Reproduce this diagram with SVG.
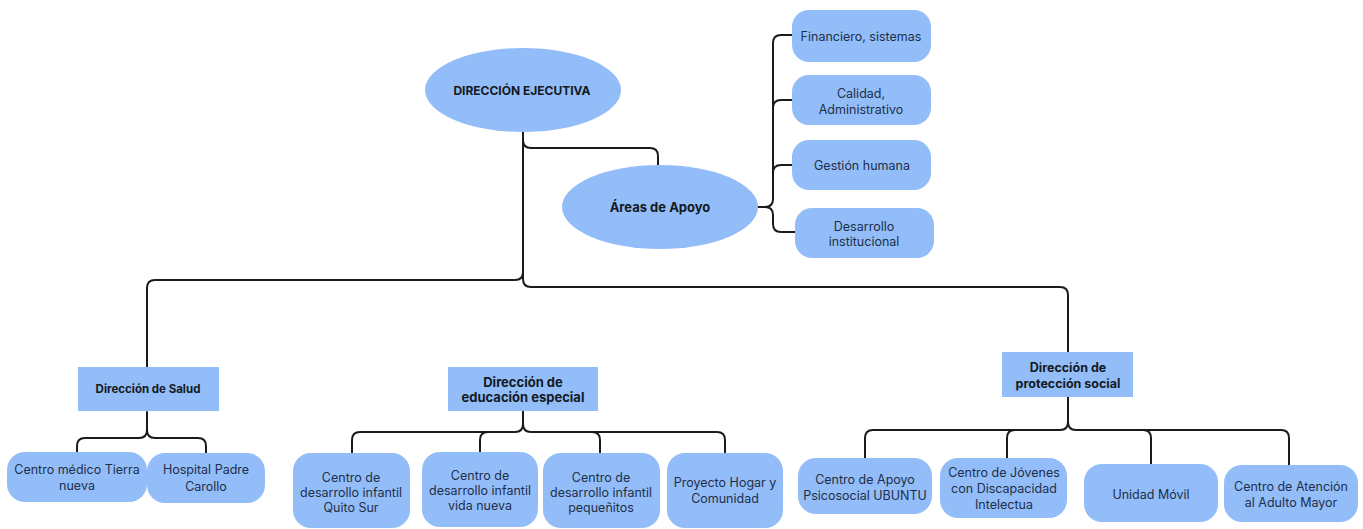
<svg xmlns="http://www.w3.org/2000/svg" width="1363" height="529" viewBox="0 0 1363 529">
  <style>
    .node { fill: #93bdf8; }
    .lbl { font-family: "Inter", "Liberation Sans", sans-serif; font-size: 12.5px; fill: #1e2f4a; text-anchor: middle; dominant-baseline: central; }
    .hdr { font-family: "Inter", "Liberation Sans", sans-serif; font-weight: 700; fill: #141923; text-anchor: middle; dominant-baseline: central; }
    .link { fill: none; stroke: #1b1b1b; stroke-width: 2; stroke-linecap: round; }
  </style>
  <rect width="1363" height="529" fill="#ffffff"/>

  <!-- connectors -->
  <g id="connectors" class="link">
    <!-- executive to support areas -->
    <path d="M523,132 V140 Q523,148 531,148 H650 Q658,148 658,156 V165"/>
    <!-- trunk to directorates -->
    <path d="M523,132 V272 Q523,280 515,280 H155 Q147,280 147,288 V368"/>
    <path d="M523,272 V279 Q523,287 531,287 H1060 Q1068,287 1068,295 V352"/>
    <!-- support areas bracket -->
    <path d="M758,207 H765 Q773,207 773,199 V43 Q773,35 781,35 H792"/>
    <path d="M773,108 Q773,100 781,100 H792"/>
    <path d="M773,173 Q773,165 781,165 H792"/>
    <path d="M765,207 Q773,207 773,215 V224 Q773,232 781,232 H795"/>
    <!-- health -->
    <path d="M147,412 V430 Q147,438 139,438 H85 Q77,438 77,446 V452"/>
    <path d="M147,430 Q147,438 155,438 H198 Q206,438 206,446 V453"/>
    <!-- special education -->
    <path d="M523,411 V424 Q523,432 515,432 H360 Q352,432 352,440 V453"/>
    <path d="M515,432 H488 Q480,432 480,440 V452"/>
    <path d="M523,424 Q523,432 531,432 H592 Q600,432 600,440 V453"/>
    <path d="M592,432 H717 Q725,432 725,440 V453"/>
    <!-- social protection -->
    <path d="M1068,397 V422 Q1068,430 1060,430 H873 Q865,430 865,438 V458"/>
    <path d="M1060,430 H1015 Q1007,430 1007,438 V458"/>
    <path d="M1068,422 Q1068,430 1076,430 H1143 Q1151,430 1151,438 V464"/>
    <path d="M1143,430 H1281 Q1289,430 1289,438 V465"/>
  </g>

  <!-- top level -->
  <g id="direccion-ejecutiva">
    <ellipse class="node" cx="523" cy="90" rx="98" ry="42"/>
    <text class="hdr" x="522" y="90" font-size="12px">DIRECCIÓN EJECUTIVA</text>
  </g>
  <g id="areas-apoyo">
    <ellipse class="node" cx="660" cy="207" rx="98" ry="42"/>
    <text class="hdr" x="660" y="207" font-size="13px">Áreas de Apoyo</text>
  </g>

  <!-- support areas -->
  <g id="financiero">
    <rect class="node" x="792" y="10" width="139" height="52" rx="17"/>
    <text class="lbl" x="861" y="36">Financiero, sistemas</text>
  </g>
  <g id="calidad">
    <rect class="node" x="792" y="75" width="139" height="50" rx="17"/>
    <text class="lbl" x="861" y="93">Calidad,</text>
    <text class="lbl" x="861" y="109">Administrativo</text>
  </g>
  <g id="gestion-humana">
    <rect class="node" x="792" y="140" width="139" height="50" rx="17"/>
    <text class="lbl" x="862" y="165">Gestión humana</text>
  </g>
  <g id="desarrollo-institucional">
    <rect class="node" x="795" y="208" width="139" height="50" rx="17"/>
    <text class="lbl" x="864" y="226">Desarrollo</text>
    <text class="lbl" x="864" y="241">institucional</text>
  </g>

  <!-- directorates -->
  <g id="direccion-salud">
    <rect class="node" x="78" y="367" width="141" height="44"/>
    <text class="hdr" x="148" y="389" font-size="11.5px">Dirección de Salud</text>
  </g>
  <g id="direccion-educacion">
    <rect class="node" x="448" y="367" width="150" height="44"/>
    <text class="hdr" x="523" y="382" font-size="13px">Dirección de</text>
    <text class="hdr" x="523" y="397" font-size="13px">educación especial</text>
  </g>
  <g id="direccion-proteccion">
    <rect class="node" x="1002" y="352" width="131" height="45"/>
    <text class="hdr" x="1068" y="367" font-size="12.5px">Dirección de</text>
    <text class="hdr" x="1068" y="383" font-size="12.5px">protección social</text>
  </g>

  <!-- health units -->
  <g id="centro-medico">
    <rect class="node" x="7" y="452" width="140" height="50" rx="18"/>
    <text class="lbl" x="77" y="469" font-size="13.5px">Centro médico Tierra</text>
    <text class="lbl" x="77" y="485" font-size="13.5px">nueva</text>
  </g>
  <g id="hospital">
    <rect class="node" x="147" y="453" width="118" height="50" rx="18"/>
    <text class="lbl" x="206" y="469" font-size="13.5px">Hospital Padre</text>
    <text class="lbl" x="206" y="486" font-size="13.5px">Carollo</text>
  </g>

  <!-- special education units -->
  <g id="cdi-quito-sur">
    <rect class="node" x="293" y="453" width="117" height="75" rx="18"/>
    <text class="lbl" x="351" y="477" font-size="13.5px">Centro de</text>
    <text class="lbl" x="351" y="492" font-size="13.5px">desarrollo infantil</text>
    <text class="lbl" x="351" y="507" font-size="13.5px">Quito Sur</text>
  </g>
  <g id="cdi-vida-nueva">
    <rect class="node" x="422" y="452" width="116" height="75" rx="18"/>
    <text class="lbl" x="480" y="475" font-size="13.5px">Centro de</text>
    <text class="lbl" x="480" y="490" font-size="13.5px">desarrollo infantil</text>
    <text class="lbl" x="480" y="505" font-size="13.5px">vida nueva</text>
  </g>
  <g id="cdi-pequenitos">
    <rect class="node" x="543" y="453" width="117" height="75" rx="18"/>
    <text class="lbl" x="601" y="477" font-size="13.5px">Centro de</text>
    <text class="lbl" x="601" y="492" font-size="13.5px">desarrollo infantil</text>
    <text class="lbl" x="601" y="507" font-size="13.5px">pequeñitos</text>
  </g>
  <g id="hogar-comunidad">
    <rect class="node" x="667" y="453" width="116" height="75" rx="18"/>
    <text class="lbl" x="725" y="482" font-size="13.5px">Proyecto Hogar y</text>
    <text class="lbl" x="725" y="498" font-size="13.5px">Comunidad</text>
  </g>

  <!-- social protection units -->
  <g id="ubuntu">
    <rect class="node" x="798" y="458" width="134" height="56" rx="18"/>
    <text class="lbl" x="865" y="479" font-size="13.5px">Centro de Apoyo</text>
    <text class="lbl" x="865" y="495" font-size="13.5px">Psicosocial UBUNTU</text>
  </g>
  <g id="jovenes">
    <rect class="node" x="940" y="458" width="127" height="60" rx="18"/>
    <text class="lbl" x="1004" y="472" font-size="13.5px">Centro de Jóvenes</text>
    <text class="lbl" x="1004" y="488" font-size="13.5px">con Discapacidad</text>
    <text class="lbl" x="1004" y="504" font-size="13.5px">Intelectua</text>
  </g>
  <g id="unidad-movil">
    <rect class="node" x="1084" y="464" width="134" height="58" rx="18"/>
    <text class="lbl" x="1151" y="494" font-size="13.5px">Unidad Móvil</text>
  </g>
  <g id="adulto-mayor">
    <rect class="node" x="1224" y="465" width="134" height="57" rx="18"/>
    <text class="lbl" x="1291" y="486" font-size="13.5px">Centro de Atención</text>
    <text class="lbl" x="1291" y="502" font-size="13.5px">al Adulto Mayor</text>
  </g>
</svg>
